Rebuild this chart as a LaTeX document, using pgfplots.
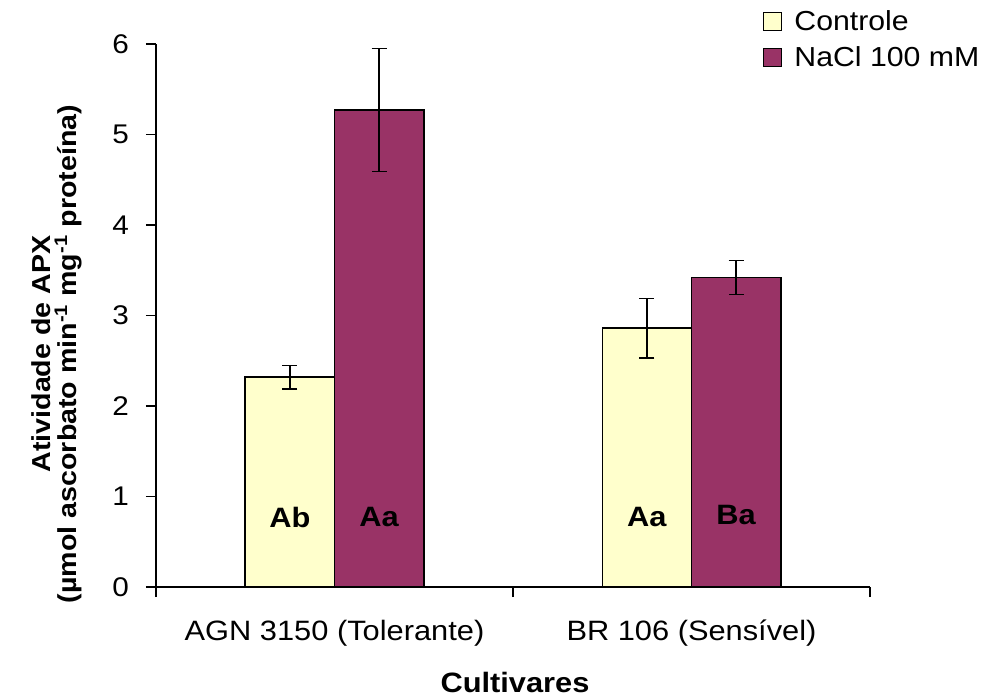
\documentclass[border=0pt]{standalone}
\usepackage{pgfplots}
\pgfplotsset{compat=1.18}
\usepackage{pgfplotstable}
\usepackage{fontspec}
\setmainfont[FakeStretch=1.1]{Liberation Sans}

\definecolor{ctrlfill}{HTML}{FFFFCC}
\definecolor{naclfill}{HTML}{993366}

% APX activity: mean and error per cultivar
\pgfplotstableread{
x val err
0 2.32 0.13
1 2.86 0.33
}\controle
\pgfplotstableread{
x val err
0 5.27 0.68
1 3.42 0.19
}\nacl

\begin{document}
\begin{tikzpicture}[font=\fontsize{27bp}{32bp}\selectfont]
\begin{axis}[
  name=ax,
  scale only axis, width=714bp, height=543bp,
  xmin=-0.5, xmax=1.5, ymin=0, ymax=6,
  axis x line*=bottom, axis y line*=left,
  axis line style={line width=1.2bp, black},
  xtick={-0.5,0.5,1.5}, xticklabels={},
  extra x ticks={0,1},
  extra x tick labels={AGN 3150 (Tolerante), BR 106 (Sensível)},
  extra x tick style={major tick length=0pt},
  ytick={0,1,2,3,4,5,6},
  tick align=outside,
  major tick length=10bp,
  tick style={black, line width=1.2bp},
  /pgf/number format/assume math mode=true,
  yticklabel style={inner sep=0pt, xshift=-17bp},
  xticklabel style={inner sep=0pt, yshift=-33bp, font=\fontsize{28bp}{32bp}\selectfont},
  ybar, bar width=89.25bp,
  legend image code/.code={\draw[#1, line width=1.2bp] (0bp,-9bp) rectangle (18bp,9bp);
    \path (30bp,0bp);},
  legend style={at={(0.85,1.062)}, anchor=north west, draw=none, fill=none,
    inner sep=0pt, row sep=15bp, font=\fontsize{27.5bp}{32bp}\selectfont,
    nodes={inner sep=0pt}},
  legend cell align=left,
  clip=false,
]
\addplot[fill=ctrlfill, draw=black, line width=1.5bp, bar shift=-44.625bp,
  error bars/.cd, y dir=both, y explicit,
  error bar style={line width=1.5bp, black},
  error mark options={rotate=90, mark size=7.5bp, line width=1.5bp, black}]
  table[x=x, y=val, y error=err] {\controle};
\addlegendentry{Controle}
\addplot[fill=naclfill, draw=black, line width=1.5bp, bar shift=44.625bp,
  error bars/.cd, y dir=both, y explicit,
  error bar style={line width=1.5bp, black},
  error mark options={rotate=90, mark size=7.5bp, line width=1.5bp, black}]
  table[x=x, y=val, y error=err] {\nacl};
\addlegendentry{NaCl 100 mM}

% significance letters
\begin{scope}[font=\fontsize{28bp}{32bp}\selectfont\bfseries]
\node at (axis cs:-0.125,0.77) {Ab};
\node at (axis cs:0.125,0.77) {Aa};
\node at (axis cs:0.875,0.77) {Aa};
\node at (axis cs:1.125,0.80) {Ba};
\end{scope}
\end{axis}

\begin{scope}[font=\fontsize{26bp}{30bp}\selectfont\bfseries]
\node[rotate=90, inner sep=0pt] at ([xshift=-114.5bp, yshift=233bp]ax.south west) {Atividade de APX};
\node[rotate=90, inner sep=0pt] at ([xshift=-88bp, yshift=233bp]ax.south west)
  {(µmol ascorbato min\textsuperscript{-1} mg\textsuperscript{-1} proteína)};
\end{scope}
\node[font=\fontsize{28bp}{32bp}\selectfont\bfseries] at ([xshift=359bp, yshift=-95bp]ax.south west) {Cultivares};

\pgfresetboundingbox
\path[use as bounding box] ([xshift=-156bp, yshift=-109bp]ax.south west) rectangle ++(986bp,696bp);
\end{tikzpicture}
\end{document}
